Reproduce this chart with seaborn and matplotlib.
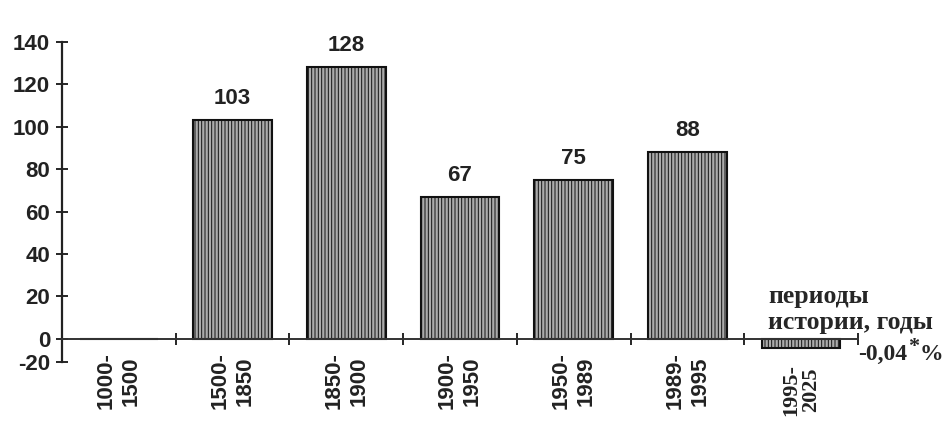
import numpy as np
import pandas as pd
import matplotlib
matplotlib.use("Agg")
import matplotlib.pyplot as plt
import seaborn as sns

# --------------------------------------------
# Data
# --------------------------------------------
periods = ["1000-\n1500", "1500-\n1850", "1850-\n1900", "1900-\n1950",
           "1950-\n1989", "1989-\n1995", "1995-\n2025"]
values = [0, 103, 128, 67, 75, 88, -8]          # drawn bar heights
value_labels = ["", "103", "128", "67", "75", "88", ""]
last_value = "-0,04"
axis_title = "периоды\nистории, годы"
y_ticks = [-20, 0, 20, 40, 60, 80, 100, 120, 140]

df = pd.DataFrame({"period": periods, "value": values})

sns.set_style("white")
plt.rcParams["font.family"] = ["Liberation Sans", "DejaVu Sans"]
plt.rcParams["hatch.color"] = "#8a8a8a"
plt.rcParams["hatch.linewidth"] = 0.7
serif = ["Liberation Serif", "DejaVu Serif"]
ink = "#222222"

# negative part of the axis is squeezed in the original
def fwd(y):
    y = np.asarray(y, dtype=float)
    return np.where(y < 0, y * 0.55, y)

def inv(y):
    y = np.asarray(y, dtype=float)
    return np.where(y < 0, y / 0.55, y)

fig = plt.figure(figsize=(9.52, 4.24), dpi=100)
ax = fig.add_axes([62 / 952, 1 - 362 / 424, (858 - 62) / 952, (362 - 42) / 424])

sns.barplot(data=df, x="period", y="value", ax=ax, color="#ababab",
            width=0.69, edgecolor="black", linewidth=1.5, saturation=1)

for p in ax.patches:
    p.set_hatch("|||||")
    p.set_edgecolor("#111111")

ax.set_yscale("function", functions=(fwd, inv))
ax.set_ylim(-20, 140)
ax.set_xlim(-0.5, 6.5)
ax.set_yticks(y_ticks)
ax.set_yticklabels([str(t) for t in y_ticks], fontsize=16, fontweight="bold",
                   color=ink)
ax.minorticks_off()

# spines: left axis and zero line only
for s in ["top", "right"]:
    ax.spines[s].set_visible(False)
ax.spines["bottom"].set_position(("data", 0))
ax.spines["left"].set_linewidth(1.6)
ax.spines["bottom"].set_linewidth(1.4)
ax.spines["left"].set_color(ink)
ax.spines["bottom"].set_color("#333333")

ax.tick_params(axis="y", direction="inout", length=9, width=1.4, pad=4,
               left=True)
# category labels at centres, tick marks at boundaries
ax.set_xticks(range(len(periods)))
ax.set_xticklabels(periods, rotation=90, fontsize=16, fontweight="bold",
                   linespacing=1.25, color=ink)
ax.tick_params(axis="x", length=0, pad=10, bottom=True)
ax.set_xticks(np.arange(0.5, len(periods), 1.0), minor=True)
ax.tick_params(axis="x", which="minor", direction="inout", length=9,
               width=1.4, bottom=True)
ax.xaxis.set_minor_formatter(plt.NullFormatter())

last = ax.get_xticklabels()[-1]
last.set_fontfamily(serif)
last.set_fontsize(16)
last.set_linespacing(1.05)
ax.xaxis.get_major_ticks()[-1].set_pad(18)

ax.set_xlabel("")
ax.set_ylabel("")

ax.bar_label(ax.containers[0], labels=value_labels, padding=8, fontsize=16,
             fontweight="bold", color=ink)

fig.text(768 / 952, 1 - 285 / 424, axis_title, ha="left", va="top",
         fontsize=18.5, fontweight="bold", linespacing=1.15, family=serif)
fig.text(858 / 952, 1 - 360 / 424, last_value, ha="left", va="baseline",
         fontsize=17, fontweight="bold", family=serif)
fig.text(908 / 952, 1 - 352 / 424, "*", ha="left", va="baseline",
         fontsize=16, fontweight="bold", family=serif)
fig.text(920 / 952, 1 - 360 / 424, "%", ha="left", va="baseline",
         fontsize=17, fontweight="bold", family=serif)

fig.savefig("out.png", dpi=100)
plt.close(fig)
